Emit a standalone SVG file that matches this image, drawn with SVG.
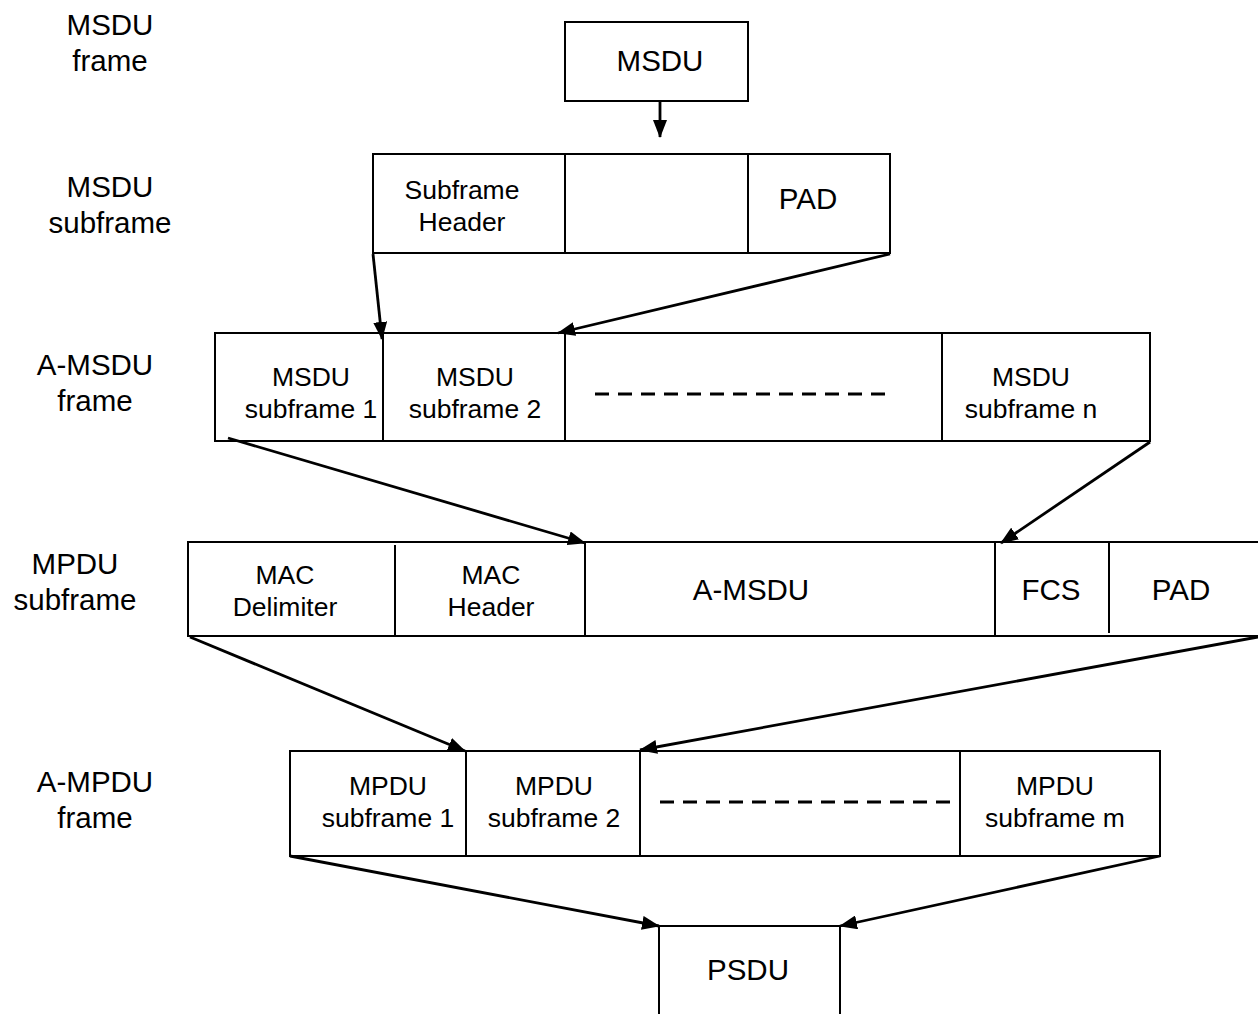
<svg xmlns="http://www.w3.org/2000/svg" width="1258" height="1014" viewBox="0 0 1258 1014">
<defs>
<marker id="ah" markerWidth="18" markerHeight="14" refX="17" refY="7" orient="auto" markerUnits="userSpaceOnUse">
<path d="M0,0 L18,7 L0,14 z" fill="#000"/>
</marker>
<style>
.box{fill:#fff;stroke:#000;stroke-width:2}
.ln{stroke:#000;stroke-width:2;fill:none}
.dash{stroke:#000;stroke-width:3;stroke-dasharray:14,9;fill:none}
.arr{stroke:#000;stroke-width:2.8;fill:none;marker-end:url(#ah)}
text{font-family:"Liberation Sans",Arial,sans-serif;fill:#000;text-anchor:middle}
.big{font-size:29.5px}
.sm{font-size:26.5px}
</style>
</defs>
<rect width="1258" height="1014" fill="#fff"/>

<g id="labels">
<text class="big" x="110" y="35">MSDU</text>
<text class="big" x="110" y="71">frame</text>
<text class="big" x="110" y="197">MSDU</text>
<text class="big" x="110" y="233">subframe</text>
<text class="big" x="95" y="375">A-MSDU</text>
<text class="big" x="95" y="411">frame</text>
<text class="big" x="75" y="574">MPDU</text>
<text class="big" x="75" y="610">subframe</text>
<text class="big" x="95" y="792">A-MPDU</text>
<text class="big" x="95" y="828">frame</text>
</g>

<g id="msdu">
<rect class="box" x="565" y="22" width="183" height="79"/>
<text class="big" x="660" y="71">MSDU</text>
</g>

<g id="msdu-subframe">
<rect class="box" x="373" y="154" width="517" height="99"/>
<line class="ln" x1="565" y1="154" x2="565" y2="253"/>
<line class="ln" x1="748" y1="154" x2="748" y2="253"/>
<text class="sm" x="462" y="199">Subframe</text>
<text class="sm" x="462" y="231">Header</text>
<text class="big" x="808" y="209">PAD</text>
</g>

<g id="a-msdu">
<rect class="box" x="215" y="333" width="935" height="108"/>
<line class="ln" x1="383" y1="333" x2="383" y2="441"/>
<line class="ln" x1="565" y1="333" x2="565" y2="441"/>
<line class="ln" x1="942" y1="333" x2="942" y2="441"/>
<text class="sm" x="311" y="386">MSDU</text>
<text class="sm" x="311" y="418">subframe 1</text>
<text class="sm" x="475" y="386">MSDU</text>
<text class="sm" x="475" y="418">subframe 2</text>
<line class="dash" x1="595" y1="394" x2="890" y2="394"/>
<text class="sm" x="1031" y="386">MSDU</text>
<text class="sm" x="1031" y="418">subframe n</text>
</g>

<g id="mpdu-subframe">
<line class="ln" x1="188" y1="542" x2="1258" y2="542"/>
<line class="ln" x1="188" y1="636" x2="1258" y2="636"/>
<line class="ln" x1="188" y1="541" x2="188" y2="637"/>
<line class="ln" x1="395" y1="545" x2="395" y2="636"/>
<line class="ln" x1="585" y1="542" x2="585" y2="636"/>
<line class="ln" x1="995" y1="542" x2="995" y2="636"/>
<line class="ln" x1="1109" y1="542" x2="1109" y2="633"/>
<text class="sm" x="285" y="584">MAC</text>
<text class="sm" x="285" y="616">Delimiter</text>
<text class="sm" x="491" y="584">MAC</text>
<text class="sm" x="491" y="616">Header</text>
<text class="big" x="751" y="600">A-MSDU</text>
<text class="big" x="1051" y="600">FCS</text>
<text class="big" x="1181" y="600">PAD</text>
</g>

<g id="a-mpdu">
<rect class="box" x="290" y="751" width="870" height="105"/>
<line class="ln" x1="466" y1="751" x2="466" y2="856"/>
<line class="ln" x1="640" y1="751" x2="640" y2="856"/>
<line class="ln" x1="960" y1="751" x2="960" y2="856"/>
<text class="sm" x="388" y="795">MPDU</text>
<text class="sm" x="388" y="827">subframe 1</text>
<text class="sm" x="554" y="795">MPDU</text>
<text class="sm" x="554" y="827">subframe 2</text>
<line class="dash" x1="660" y1="802" x2="955" y2="802"/>
<text class="sm" x="1055" y="795">MPDU</text>
<text class="sm" x="1055" y="827">subframe m</text>
</g>

<g id="psdu">
<path class="ln" d="M659,1014 L659,926 L840,926 L840,1014"/>
<text class="big" x="748" y="980">PSDU</text>
</g>

<g id="connectors">
<line class="arr" x1="660" y1="101" x2="660" y2="137"/>
<line class="arr" x1="373" y1="254" x2="382" y2="339"/>
<line class="arr" x1="890" y1="254" x2="558" y2="333"/>
<line class="arr" x1="228" y1="438" x2="585" y2="543"/>
<line class="arr" x1="1150" y1="442" x2="1001" y2="543"/>
<line class="arr" x1="190" y1="637" x2="465" y2="751"/>
<line class="arr" x1="1258" y1="637" x2="640" y2="750"/>
<line class="arr" x1="290" y1="856" x2="659" y2="926"/>
<line class="arr" x1="1160" y1="856" x2="840" y2="926"/>
</g>
</svg>
